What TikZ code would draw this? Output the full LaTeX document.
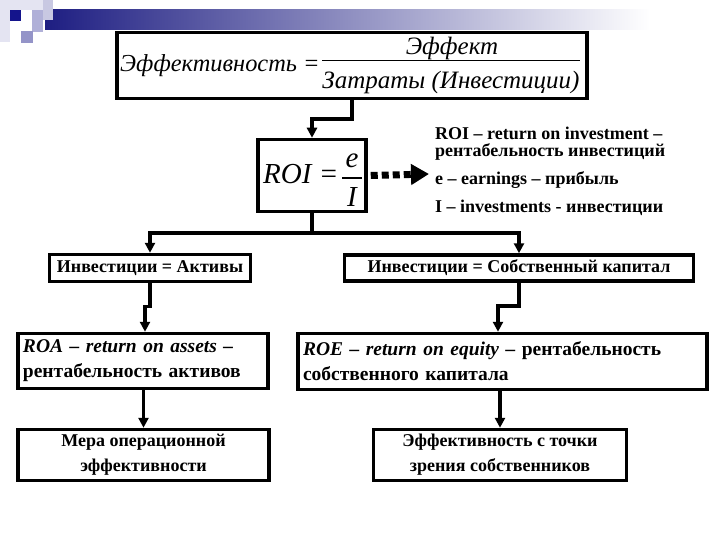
\documentclass[tikz,border=0pt]{standalone}
\usepackage{fontspec}
\setmainfont{Liberation Serif}
\usetikzlibrary{arrows.meta}
\definecolor{navy}{HTML}{1E1E82}
\definecolor{darkblue}{HTML}{14148C}
\definecolor{lav1}{HTML}{E4E4F2}
\definecolor{lav2}{HTML}{C8C8E2}
\definecolor{lav3}{HTML}{B0B0D8}
\definecolor{lav4}{HTML}{9494C8}
\tikzset{
  box/.style={draw, line width=3.5pt, rectangle, inner sep=0pt},
  btxt/.style={font=\fontsize{18}{25}\selectfont\bfseries},
  wtxt/.style={font=\fontsize{19.5}{25}\selectfont\bfseries, align=left, inner xsep=5pt},
  conn/.style={line width=3.5pt, -{Triangle[length=10pt,width=10pt]}},
  plainline/.style={line width=3.5pt},
  dotarrow/.style={line width=7pt, dash pattern=on 7pt off 4pt, -{Triangle[length=18pt,width=20pt]}},
  formula/.style={font=\fontsize{25}{28}\selectfont\itshape, inner sep=0pt},
  roif/.style={font=\fontsize{29}{32}\selectfont\itshape, inner sep=0pt},
  note/.style={font=\fontsize{18}{19}\selectfont\bfseries, inner sep=0pt, anchor=base west},
}
\begin{document}
\begin{tikzpicture}[x=1pt,y=-1pt]
\useasboundingbox (0,0) rectangle (720,540);
\fill[white] (0,0) rectangle (720,540);
% header decoration
\shade[left color=navy, right color=white] (45,10) rectangle (650,30);
\fill[lav1] (0,0) rectangle (10,42);
\fill[lav1] (10,0) rectangle (43,10);
\fill[darkblue] (10,10) rectangle (21,21);
\fill[lav2] (43,0) rectangle (53,20);
\fill[lav3] (32,10) rectangle (43,32);
\fill[lav4] (21,31) rectangle (33,43);

% top formula box
\node[box, minimum width=470pt, minimum height=66pt] (box1) at (352,65.5) {};
\node[formula, font=\fontsize{24.4}{28}\selectfont\itshape, anchor=base west] (eff) at (120,72) {Эффективность =};
\node[formula, anchor=base] (num) at (452,55) {Эффект};
\node[formula, anchor=base] (den) at (451,89) {Затраты (Инвестиции)};
\draw[line width=1.3pt] (num.south -| den.west) -- (num.south -| den.east);

% ROI box
\node[box, minimum width=108pt, minimum height=72pt] (roi) at (312,175.5) {};
\node[roif, anchor=base west] (roil) at (263,184) {ROI =};
\node[roif, anchor=base] (roie) at (352,168) {e};
\node[roif, anchor=base] (roii) at (352,207) {I};
\draw[line width=1.3pt] (342,178) -- (362,178);

% dotted arrow and notes
\coordinate (tip) at (429,174);
\draw[dotarrow] ([xshift=3pt]roi.east) -- (tip);
\node[note] (n1) at (435,140) {ROI – return on investment –};
\node[note] (n2) at (435,157) {рентабельность инвестиций};
\node[note] (n3) at (435,185) {e – earnings – прибыль};
\node[note] (n4) at (435,213) {I – investments - инвестиции};

% level 1 boxes
\node[box, btxt, minimum width=201pt, minimum height=27pt] (l1) at (150,268) {Инвестиции = Активы};
\node[box, btxt, minimum width=349pt, minimum height=26pt] (r1) at (519,268) {Инвестиции = Собственный капитал};

% level 2 boxes
\node[box, wtxt, text width=240pt, minimum height=55pt] (l2) at (143,361)
  {\textit{ROA – return on assets –}\\рентабельность активов};
\node[box, wtxt, text width=399pt, minimum height=56pt] (r2) at (502.5,361.5)
  {\textit{ROE – return on equity –} рентабельность\\собственного капитала};

% level 3 boxes
\node[box, btxt, align=center, minimum width=251pt, minimum height=51pt] (l3) at (143.5,455)
  {Мера операционной\\эффективности};
\node[box, btxt, align=center, minimum width=253pt, minimum height=51pt] (r3) at (500,455)
  {Эффективность с точки\\зрения собственников};

% connectors
\draw[conn] (box1.south) -- ++(0,19) -| (roi.north);
\coordinate (split) at (312,233);
\draw[plainline] (roi.south) -- (split);
\draw[conn] (split) -| (l1.north);
\draw[conn] (split) -| (r1.north);
\draw[conn] (l1.south) -- ++(0,23) -| ([xshift=2pt]l2.north);
\draw[conn] (r1.south) -- ++(0,23) -| ([xshift=-4.5pt]r2.north);
\draw[conn] (l3.north |- l2.south) -- (l3.north);
\draw[conn] (r3.north |- r2.south) -- (r3.north);
\end{tikzpicture}
\end{document}
